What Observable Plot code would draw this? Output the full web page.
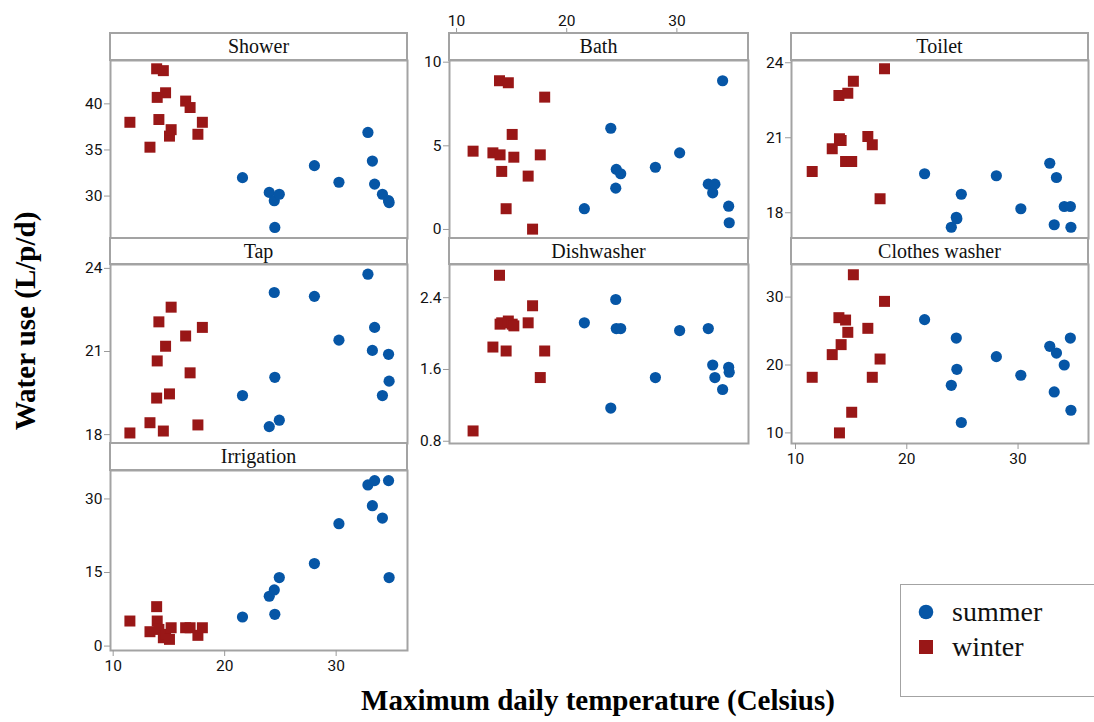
<!DOCTYPE html>
<html>
<head>
<meta charset="utf-8">
<script src="https://cdn.jsdelivr.net/npm/d3@7"></script>
<script src="https://cdn.jsdelivr.net/npm/@observablehq/plot@0.6"></script>
<style>
  body { margin: 0; background: #fff; }
  #chart { position: relative; width: 1094px; height: 722px; overflow: hidden; background: #fff; }
  .panel { position: absolute; }
  .panel svg g[aria-label$="tick"] { stroke: #9a9a9a; }
  .panel svg g[aria-label$="axis"] line { stroke: #9a9a9a; }
  .panel svg text { font-family: Roboto, "Open Sans", sans-serif; font-size: 15.5px; fill: #111; }
  .strip { position: absolute; box-sizing: border-box; border: 2px solid #a3a3a3; background: #fff;
           font-family: "Liberation Serif", "Times New Roman", serif; font-size: 20px; color: #111;
           text-align: center; line-height: 25px; }
  .title { position: absolute; font-family: "Liberation Serif", "Times New Roman", serif; font-weight: bold;
           font-size: 29px; color: #000; white-space: nowrap; }
  #legend { position: absolute; left: 900px; top: 584px; width: 260px; height: 113px; box-sizing: border-box;
            border: 1.5px solid #a3a3a3; background: #fff; }
  #legend .item { position: absolute; left: 16px; font-family: "Liberation Serif", "Times New Roman", serif;
                  font-size: 28px; color: #111; display: flex; align-items: center; }
  #legend svg { margin-right: 17px; }
</style>
</head>
<body>
<div id="chart"></div>
<script>
// ---------- data ----------
const summerTemp = [21.6, 24.0, 24.45, 24.5, 24.9, 28.05, 30.25, 32.85, 33.25, 33.45, 34.15, 34.7, 34.75];
const winterTemp = [11.5, 13.3, 13.9, 13.95, 14.1, 14.5, 14.7, 15.05, 15.2, 16.5, 16.9, 17.6, 18.0];

const showerSummer = [32.0, 30.4, 29.5, 26.6, 30.2, 33.3, 31.5, 36.9, 33.8, 31.3, 30.2, 29.5, 29.3];
const showerWinter = [38.0, 35.3, 43.8, 40.7, 38.3, 43.6, 41.2, 36.5, 37.2, 40.3, 39.6, 36.7, 38.0];

const bathSummer = [1.24, 6.05, 2.47, 3.59, 3.33, 3.72, 4.58, 2.71, 2.19, 2.71, 8.89, 1.39, 0.4];
const bathWinter = [4.68, 4.58, 8.89, 4.46, 3.47, 1.24, 8.77, 5.68, 4.32, 3.19, 0.02, 4.46, 7.91];

const toiletSummer = [19.56, 17.42, 17.82, 17.76, 18.74, 19.48, 18.16, 19.98, 17.52, 19.41, 18.25, 18.25, 17.42];
const toiletWinter = [19.65, 20.56, 22.69, 20.96, 20.89, 20.05, 22.78, 20.05, 23.26, 21.05, 20.72, 18.56, 23.76];

const tapSummer = [19.41, 18.29, 23.13, 20.07, 18.52, 22.99, 21.41, 23.79, 21.04, 21.87, 19.41, 20.9, 19.93];
const tapWinter = [18.06, 18.43, 19.32, 20.66, 22.07, 18.13, 21.19, 19.47, 22.6, 21.56, 20.23, 18.35, 21.87];

const dishSummer = [2.12, 1.17, 2.38, 2.056, 2.056, 1.51, 2.034, 2.056, 1.65, 1.51, 1.377, 1.624, 1.57];
const dishWinter = [0.915, 1.85, 2.65, 2.105, 2.12, 1.806, 2.14, 2.105, 2.086, 2.12, 2.31, 1.51, 1.806];

const clothesSummer = [26.68, 17.01, 23.97, 19.37, 11.53, 21.23, 18.49, 22.75, 16.03, 21.76, 20.0, 23.97, 13.34];
const clothesWinter = [18.19, 21.53, 26.97, 10.0, 23.0, 26.62, 24.81, 13.04, 33.29, 25.4, 18.19, 20.88, 29.37];

const irrigationSummer = [5.93, 10.16, 11.45, 6.48, 13.97, 16.83, 24.95, 32.86, 28.63, 33.74, 26.11, 33.74, 13.97];
const irrigationWinter = [5.11, 2.93, 8.04, 5.11, 3.4, 1.7, 2.39, 1.37, 3.74, 3.74, 3.74, 2.19, 3.74];

const xTicks = [10, 20, 30];
const showerTicks = [30, 35, 40];
const bathTicks = [0, 5, 10];
const toiletTicks = [18, 21, 24];
const tapTicks = [18, 21, 24];
const dishTicks = [0.8, 1.6, 2.4];
const clothesTicks = [10, 20, 30];
const irrigationTicks = [0, 15, 30];

const seasons = ["summer", "winter"];

// ---------- layout ----------
const summerColor = "#0656a6";
const winterColor = "#991717";
const cols = [
  {left: 110, width: 297, xDomain: [9.76, 36.4]},
  {left: 449, width: 299, xDomain: [9.36, 36.5]},
  {left: 791, width: 297, xDomain: [9.64, 36.33]}
];
const rows = [
  {stripTop: 33, plotTop: 60, plotBottom: 238},
  {stripTop: 238, plotTop: 264, plotBottom: 443},
  {stripTop: 443, plotTop: 470, plotBottom: 650}
];
const panels = [
  {name: "Shower", col: 0, row: 0, s: showerSummer, w: showerWinter, ticks: showerTicks, yDomain: [25.4, 44.7]},
  {name: "Bath", col: 1, row: 0, s: bathSummer, w: bathWinter, ticks: bathTicks, yDomain: [-0.54, 10.1], xAxis: "top"},
  {name: "Toilet", col: 2, row: 0, s: toiletSummer, w: toiletWinter, ticks: toiletTicks, yDomain: [16.97, 24.09]},
  {name: "Tap", col: 0, row: 1, s: tapSummer, w: tapWinter, ticks: tapTicks, yDomain: [17.68, 24.14]},
  {name: "Dishwasher", col: 1, row: 1, s: dishSummer, w: dishWinter, ticks: dishTicks, yDomain: [0.775, 2.77], fmt: d3.format(".1f")},
  {name: "Clothes washer", col: 2, row: 1, s: clothesSummer, w: clothesWinter, ticks: clothesTicks, yDomain: [8.44, 34.8], xAxis: "bottom"},
  {name: "Irrigation", col: 0, row: 2, s: irrigationSummer, w: irrigationWinter, ticks: irrigationTicks, yDomain: [-0.9, 35.8], xAxis: "bottom"}
];

const chart = document.getElementById("chart");
const mL = 50, mR = 6, mT = 45, mB = 35;

for (const p of panels) {
  const col = cols[p.col], row = rows[p.row];
  const H = row.plotBottom - row.plotTop;
  const data = [
    ...summerTemp.map((t, i) => ({t, v: p.s[i], season: seasons[0]})),
    ...winterTemp.map((t, i) => ({t, v: p.w[i], season: seasons[1]}))
  ];
  const marks = [
    Plot.frame({stroke: "#a3a3a3", strokeWidth: 2}),
    Plot.axisY({ticks: p.ticks, tickSize: 6, tickPadding: 2, tickFormat: p.fmt || (d => String(d)), label: null})
  ];
  if (p.xAxis === "bottom") {
    marks.push(Plot.axisX({anchor: "bottom", ticks: xTicks, tickSize: 6, tickPadding: 3, tickFormat: d => String(d), label: null}));
  } else if (p.xAxis === "top") {
    marks.push(Plot.axisX({anchor: "top", ticks: xTicks, tickSize: 6, tickPadding: 2, tickFormat: d => String(d), label: null, dy: -(row.plotTop - row.stripTop)}));
  }
  marks.push(Plot.dot(data.filter(d => d.season === "summer"), {x: "t", y: "v", r: 5.6, fill: summerColor, symbol: "circle"}));
  marks.push(Plot.dot(data.filter(d => d.season === "winter"), {x: "t", y: "v", r: 6.2, fill: winterColor, symbol: "square"}));

  const svg = Plot.plot({
    width: mL + col.width + mR,
    height: mT + H + mB,
    marginLeft: mL, marginRight: mR, marginTop: mT, marginBottom: mB,
    x: {domain: col.xDomain, axis: null},
    y: {domain: p.yDomain, axis: null},
    style: {background: "transparent", overflow: "visible", fontFamily: "Roboto, sans-serif", fontSize: "15.5px", color: "#111"},
    marks
  });
  const wrap = document.createElement("div");
  wrap.className = "panel";
  wrap.style.left = (col.left - mL) + "px";
  wrap.style.top = (row.plotTop - mT) + "px";
  wrap.appendChild(svg);
  chart.appendChild(wrap);
}

for (const p of panels) {
  const col = cols[p.col], row = rows[p.row];
  const strip = document.createElement("div");
  strip.className = "strip";
  strip.style.left = (col.left - 1) + "px";
  strip.style.top = (row.stripTop - 1) + "px";
  strip.style.width = (col.width + 2) + "px";
  strip.style.height = (row.plotTop - row.stripTop + 2) + "px";
  strip.textContent = p.name;
  chart.appendChild(strip);
}

// axis titles
const xt = document.createElement("div");
xt.className = "title";
xt.textContent = "Maximum daily temperature (Celsius)";
xt.style.left = "598px"; xt.style.top = "684px"; xt.style.transform = "translateX(-50%)";
chart.appendChild(xt);

const yt = document.createElement("div");
yt.className = "title";
yt.textContent = "Water use (L/p/d)";
yt.style.left = "25px"; yt.style.top = "321px";
yt.style.transform = "translate(-50%, -50%) rotate(-90deg)";
chart.appendChild(yt);

// legend
const legend = document.createElement("div");
legend.id = "legend";
const swatches = {
  summer: `<svg width="18" height="18"><circle cx="9" cy="9" r="7.3" fill="${summerColor}"/></svg>`,
  winter: `<svg width="18" height="18"><rect x="2" y="2" width="14" height="14" fill="${winterColor}"/></svg>`
};
seasons.forEach((s, i) => {
  const it = document.createElement("div");
  it.className = "item";
  it.style.top = (11 + i * 35) + "px";
  it.innerHTML = swatches[s] + `<span>${s}</span>`;
  legend.appendChild(it);
});
chart.appendChild(legend);
</script>
</body>
</html>
